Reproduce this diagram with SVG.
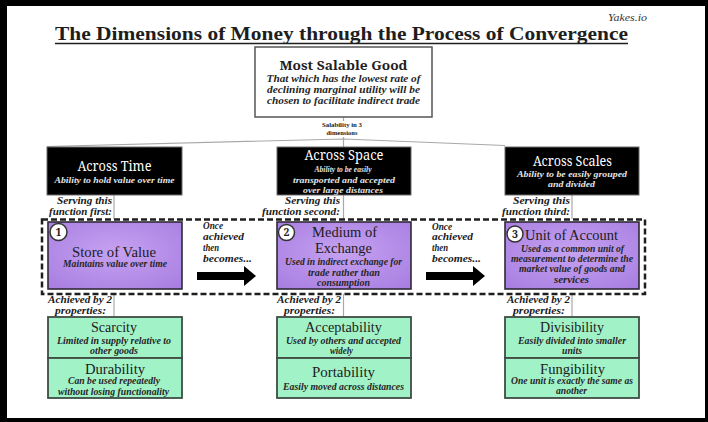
<svg xmlns="http://www.w3.org/2000/svg" width="708" height="422" viewBox="0 0 708 422">
  <style>
    text { font-family: "Liberation Serif", "DejaVu Serif", serif; }
    .g { font-family: "Noto Serif", "DejaVu Serif", serif; }
    .hd { font-size: 15px; fill: #1c1c1c; text-anchor: middle; }
    .hdw { font-family: "Noto Serif", "DejaVu Serif", serif; font-size: 13.5px; fill: #ffffff; text-anchor: middle; }
    .it { font-style: italic; font-weight: bold; font-size: 9.5px; fill: #262626; text-anchor: middle; }
    .itw { font-style: italic; font-weight: bold; font-size: 9px; fill: #e4e4e4; text-anchor: middle; }
    .lbl { font-style: italic; font-weight: bold; font-size: 10.5px; fill: #1a1a1a; }
    .black { fill: #000000; stroke: #6b6b6b; stroke-width: 1; }
    .purple { fill: url(#pg); stroke: #2f2a35; stroke-width: 1.6; }
    .green { fill: #a2f2c8; stroke: #3f4d44; stroke-width: 1.8; }
    .conn { stroke: #a8a8a8; stroke-width: 1.2; fill: none; }
    .num { fill: #ffffff; stroke: #333333; stroke-width: 1.5; }
    .numt { font-family: "Noto Serif", "DejaVu Serif", serif; font-weight: bold; font-size: 10.5px; fill: #222; text-anchor: middle; }
  </style>
  <defs>
    <radialGradient id="pg" cx="0.5" cy="0.45" r="0.75">
      <stop offset="0" stop-color="#c6a2f1"/>
      <stop offset="1" stop-color="#a67ce0"/>
    </radialGradient>
  </defs>

  <!-- frame -->
  <rect x="0" y="0" width="708" height="422" fill="#000"/>
  <rect x="7" y="6" width="698" height="412" fill="#ffffff"/>

  <!-- header -->
  <text x="608" y="21" font-style="italic" font-size="9.5" fill="#333" textLength="39" lengthAdjust="spacingAndGlyphs">Yakes.io</text>
  <text x="55" y="40" font-weight="bold" font-size="19" fill="#1e1e1e" textLength="573" lengthAdjust="spacingAndGlyphs">The Dimensions of Money through the Process of Convergence</text>
  <line x1="55" y1="43.5" x2="628" y2="43.5" stroke="#1e1e1e" stroke-width="1.5"/>

  <!-- connectors -->
  <g id="connectors">
    <line class="conn" x1="343.5" y1="117" x2="343.5" y2="121"/>
    <line class="conn" x1="343.5" y1="137" x2="343.5" y2="147"/>
    <polyline class="conn" points="47,146.5 343.5,139 505,145.5"/>
    <line class="conn" x1="114" y1="195" x2="114" y2="219"/>
    <line class="conn" x1="343.5" y1="195" x2="343.5" y2="219"/>
    <line class="conn" x1="572" y1="195" x2="572" y2="219"/>
    <line class="conn" x1="114" y1="294" x2="114" y2="317"/>
    <line class="conn" x1="343.5" y1="294" x2="343.5" y2="317"/>
    <line class="conn" x1="572" y1="294" x2="572" y2="317"/>
    <!-- progression arrows -->
    <polygon points="197,272 244,272 244,266 256,276 244,286 244,280 197,280" fill="#000"/>
    <polygon points="426,272 473,272 473,266 485,276 473,286 473,280 426,280" fill="#000"/>
  </g>

  <!-- top node -->
  <g id="most-salable-good">
    <rect x="255" y="47" width="177" height="70" fill="#fff" stroke="#555" stroke-width="1.5"/>
    <text x="343.5" y="70" class="g" font-weight="bold" font-size="13" fill="#1e1e1e" text-anchor="middle" textLength="128" lengthAdjust="spacingAndGlyphs">Most Salable Good</text>
    <text x="343.5" y="81.5" class="it" font-size="10" textLength="154" lengthAdjust="spacingAndGlyphs">That which has the lowest rate of</text>
    <text x="343.5" y="92.5" class="it" font-size="10" textLength="153" lengthAdjust="spacingAndGlyphs">declining marginal utility will be</text>
    <text x="343.5" y="103.5" class="it" font-size="10" textLength="153" lengthAdjust="spacingAndGlyphs">chosen to facilitate indirect trade</text>
  </g>
  <g id="salability-label">
    <text x="342" y="127" font-weight="bold" font-size="6.5" fill="#222" text-anchor="middle" textLength="40" lengthAdjust="spacingAndGlyphs">Salability in 3</text>
    <text x="342" y="135" font-weight="bold" font-size="6.5" fill="#222" text-anchor="middle" textLength="31" lengthAdjust="spacingAndGlyphs">dimensions</text>
  </g>

  <!-- dimension nodes -->
  <g id="across-time">
    <rect class="black" x="47" y="147" width="135" height="48"/>
    <text x="114.5" y="170.5" class="hdw" textLength="74" lengthAdjust="spacingAndGlyphs">Across Time</text>
    <text x="114.5" y="182.5" class="itw" textLength="120" lengthAdjust="spacingAndGlyphs">Ability to hold value over time</text>
  </g>
  <g id="across-space">
    <rect class="black" x="277" y="147" width="134" height="48"/>
    <text x="344" y="159.5" class="hdw" textLength="79" lengthAdjust="spacingAndGlyphs">Across Space</text>
    <text x="343" y="171.5" class="itw" textLength="57" lengthAdjust="spacingAndGlyphs">Ability to be easily</text>
    <text x="344" y="182.5" class="itw" textLength="102" lengthAdjust="spacingAndGlyphs">transported and accepted</text>
    <text x="343" y="192.5" class="itw" textLength="80" lengthAdjust="spacingAndGlyphs">over large distances</text>
  </g>
  <g id="across-scales">
    <rect class="black" x="505" y="147" width="134" height="48"/>
    <text x="572.5" y="166" class="hdw" textLength="79" lengthAdjust="spacingAndGlyphs">Across Scales</text>
    <text x="572" y="177" class="itw" textLength="110" lengthAdjust="spacingAndGlyphs">Ability to be easily grouped</text>
    <text x="571.5" y="187" class="itw" textLength="47" lengthAdjust="spacingAndGlyphs">and divided</text>
  </g>

  <!-- serving labels -->
  <g id="serving-labels">
    <text x="112" y="204" class="lbl" text-anchor="end" textLength="55" lengthAdjust="spacingAndGlyphs">Serving this</text>
    <text x="112" y="215" class="lbl" text-anchor="end" textLength="63" lengthAdjust="spacingAndGlyphs">function first:</text>
    <text x="340" y="204" class="lbl" text-anchor="end" textLength="55" lengthAdjust="spacingAndGlyphs">Serving this</text>
    <text x="340" y="215" class="lbl" text-anchor="end" textLength="78" lengthAdjust="spacingAndGlyphs">function second:</text>
    <text x="570" y="204" class="lbl" text-anchor="end" textLength="57" lengthAdjust="spacingAndGlyphs">Serving this</text>
    <text x="570" y="215" class="lbl" text-anchor="end" textLength="68" lengthAdjust="spacingAndGlyphs">function third:</text>
  </g>

  <!-- functions of money -->
  <rect id="functions-frame" x="42" y="219.5" width="603" height="74.5" fill="none" stroke="#1e1e1e" stroke-width="2.5" stroke-dasharray="6 3"/>

  <g id="store-of-value">
    <rect class="purple" x="48" y="222" width="134" height="67"/>
    <circle class="num" cx="58.5" cy="232" r="8.5"/>
    <text x="58.5" y="235.8" class="numt">1</text>
    <text x="114" y="256.5" class="hd" font-size="16" textLength="84" lengthAdjust="spacingAndGlyphs">Store of Value</text>
    <text x="115" y="267" class="it" fill="#2a1f38" textLength="104" lengthAdjust="spacingAndGlyphs">Maintains value over time</text>
  </g>
  <g id="medium-of-exchange">
    <rect class="purple" x="277" y="222" width="134" height="67"/>
    <circle class="num" cx="286.5" cy="232.5" r="8"/>
    <text x="286.5" y="236.3" class="numt">2</text>
    <text x="344.5" y="237" class="hd" font-size="16" textLength="65" lengthAdjust="spacingAndGlyphs">Medium of</text>
    <text x="343.5" y="253" class="hd" font-size="16" textLength="57" lengthAdjust="spacingAndGlyphs">Exchange</text>
    <text x="343.5" y="264.5" class="it" fill="#2a1f38" textLength="117" lengthAdjust="spacingAndGlyphs">Used in indirect exchange for</text>
    <text x="344" y="275.5" class="it" fill="#2a1f38" textLength="72" lengthAdjust="spacingAndGlyphs">trade rather than</text>
    <text x="343.5" y="286" class="it" fill="#2a1f38" textLength="53" lengthAdjust="spacingAndGlyphs">consumption</text>
  </g>
  <g id="unit-of-account">
    <rect class="purple" x="505" y="222" width="134" height="67"/>
    <circle class="num" cx="515" cy="234" r="8"/>
    <text x="515" y="237.8" class="numt">3</text>
    <text x="571.5" y="240" class="hd" font-size="16" textLength="93" lengthAdjust="spacingAndGlyphs">Unit of Account</text>
    <text x="572.5" y="251.5" class="it" fill="#2a1f38" textLength="103" lengthAdjust="spacingAndGlyphs">Used as a common unit of</text>
    <text x="572" y="261.5" class="it" fill="#2a1f38" textLength="122" lengthAdjust="spacingAndGlyphs">measurement to determine the</text>
    <text x="572" y="271.5" class="it" fill="#2a1f38" textLength="106" lengthAdjust="spacingAndGlyphs">market value of goods and</text>
    <text x="571.5" y="282.5" class="it" fill="#2a1f38" textLength="35" lengthAdjust="spacingAndGlyphs">services</text>
  </g>

  <!-- transition labels -->
  <g id="transition-1">
    <text x="203" y="228.5" class="lbl" textLength="20" lengthAdjust="spacingAndGlyphs">Once</text>
    <text x="203" y="239.5" class="lbl" textLength="41" lengthAdjust="spacingAndGlyphs">achieved</text>
    <text x="203" y="250.5" class="lbl" textLength="16" lengthAdjust="spacingAndGlyphs">then</text>
    <text x="203" y="261.5" class="lbl" textLength="49" lengthAdjust="spacingAndGlyphs">becomes...</text>
  </g>
  <g id="transition-2">
    <text x="432" y="229.5" class="lbl" textLength="20" lengthAdjust="spacingAndGlyphs">Once</text>
    <text x="432" y="240" class="lbl" textLength="41" lengthAdjust="spacingAndGlyphs">achieved</text>
    <text x="432" y="251" class="lbl" textLength="16" lengthAdjust="spacingAndGlyphs">then</text>
    <text x="432" y="262" class="lbl" textLength="49" lengthAdjust="spacingAndGlyphs">becomes...</text>
  </g>

  <!-- property labels -->
  <g id="achieved-labels">
    <text x="80" y="303" class="lbl" text-anchor="middle" textLength="64" lengthAdjust="spacingAndGlyphs">Achieved by 2</text>
    <text x="80.5" y="313.5" class="lbl" text-anchor="middle" textLength="51" lengthAdjust="spacingAndGlyphs">properties:</text>
    <text x="309" y="303" class="lbl" text-anchor="middle" textLength="64" lengthAdjust="spacingAndGlyphs">Achieved by 2</text>
    <text x="309.5" y="313.5" class="lbl" text-anchor="middle" textLength="51" lengthAdjust="spacingAndGlyphs">properties:</text>
    <text x="538.5" y="303" class="lbl" text-anchor="middle" textLength="63" lengthAdjust="spacingAndGlyphs">Achieved by 2</text>
    <text x="539" y="313.5" class="lbl" text-anchor="middle" textLength="52" lengthAdjust="spacingAndGlyphs">properties:</text>
  </g>

  <!-- properties -->
  <g id="scarcity">
    <rect class="green" x="48" y="317" width="134" height="41"/>
    <text x="114" y="332" class="hd" font-size="16" textLength="46" lengthAdjust="spacingAndGlyphs">Scarcity</text>
    <text x="114" y="344" class="it" textLength="114" lengthAdjust="spacingAndGlyphs">Limited in supply relative to</text>
    <text x="114" y="354" class="it" textLength="48" lengthAdjust="spacingAndGlyphs">other goods</text>
  </g>
  <g id="durability">
    <rect class="green" x="48" y="358" width="134" height="40"/>
    <text x="115" y="373.5" class="hd" font-size="16" textLength="60" lengthAdjust="spacingAndGlyphs">Durability</text>
    <text x="114" y="384" class="it" textLength="92" lengthAdjust="spacingAndGlyphs">Can be used repeatedly</text>
    <text x="113.5" y="394.5" class="it" textLength="111" lengthAdjust="spacingAndGlyphs">without losing functionality</text>
  </g>
  <g id="acceptability">
    <rect class="green" x="277" y="317" width="134" height="41"/>
    <text x="343.5" y="332" class="hd" font-size="16" textLength="77" lengthAdjust="spacingAndGlyphs">Acceptability</text>
    <text x="343.5" y="344" class="it" textLength="115" lengthAdjust="spacingAndGlyphs">Used by others and accepted</text>
    <text x="341.5" y="354" class="it" textLength="23" lengthAdjust="spacingAndGlyphs">widely</text>
  </g>
  <g id="portability">
    <rect class="green" x="277" y="358" width="134" height="40"/>
    <text x="343.5" y="377" class="hd" font-size="16" textLength="63" lengthAdjust="spacingAndGlyphs">Portability</text>
    <text x="343.5" y="390" class="it" textLength="121" lengthAdjust="spacingAndGlyphs">Easily moved across distances</text>
  </g>
  <g id="divisibility">
    <rect class="green" x="505" y="317" width="134" height="41"/>
    <text x="572" y="332" class="hd" font-size="16" textLength="64" lengthAdjust="spacingAndGlyphs">Divisibility</text>
    <text x="572" y="343.5" class="it" textLength="108" lengthAdjust="spacingAndGlyphs">Easily divided into smaller</text>
    <text x="572" y="354" class="it" textLength="20" lengthAdjust="spacingAndGlyphs">units</text>
  </g>
  <g id="fungibility">
    <rect class="green" x="505" y="358" width="134" height="40"/>
    <text x="572.5" y="373.5" class="hd" font-size="16" textLength="65" lengthAdjust="spacingAndGlyphs">Fungibility</text>
    <text x="572" y="384" class="it" textLength="122" lengthAdjust="spacingAndGlyphs">One unit is exactly the same as</text>
    <text x="571.5" y="394" class="it" textLength="31" lengthAdjust="spacingAndGlyphs">another</text>
  </g>
</svg>
